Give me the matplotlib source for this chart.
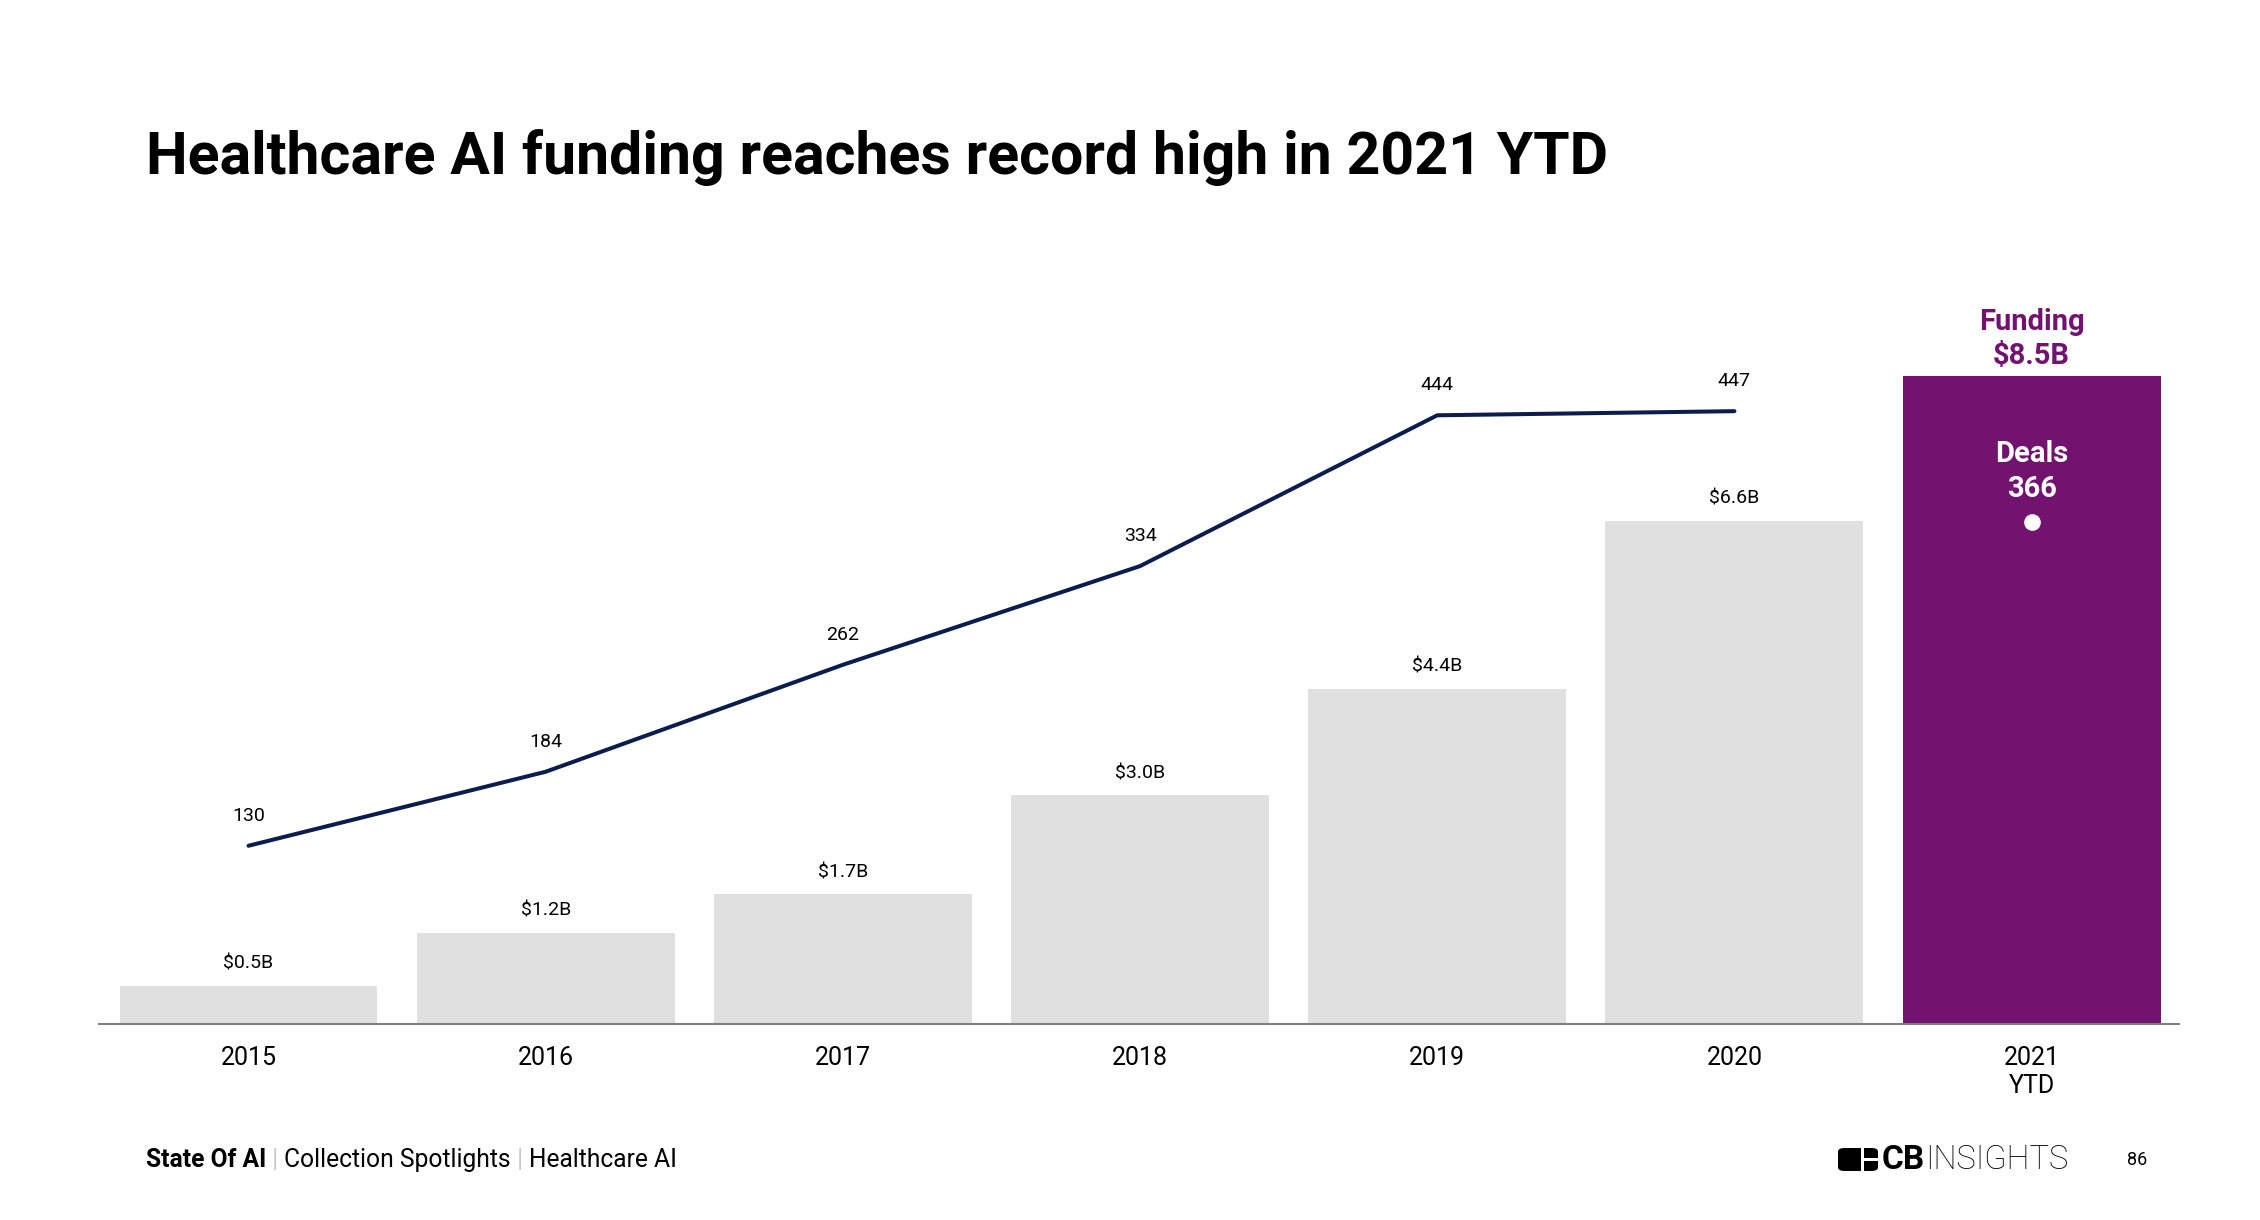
import matplotlib
matplotlib.use("Agg")
import matplotlib.pyplot as plt
from matplotlib.patches import FancyBboxPatch, Rectangle
import numpy as np

plt.rcParams['font.family'] = ['Roboto', 'DejaVu Sans']

# data
years = ['2015', '2016', '2017', '2018', '2019', '2020', '2021\nYTD']
funding = [0.5, 1.2, 1.7, 3.0, 4.4, 6.6, 8.5]          # $B
funding_labels = ['$0.5B', '$1.2B', '$1.7B', '$3.0B', '$4.4B', '$6.6B', '$8.5B']
deals = [130, 184, 262, 334, 444, 447, 366]

title = 'Healthcare AI funding reaches record high in 2021 YTD'
footer = ['State Of AI', 'Collection Spotlights', 'Healthcare AI']

GRAY_BAR = '#e0e0e0'
PURPLE = '#721370'
NAVY = '#0b1d4d'

W, H = 2260, 1220
fig = plt.figure(figsize=(W / 100, H / 100), dpi=100)
ax = fig.add_axes([99 / W, 1 - 1024 / H, 2080 / W, 748 / H])
ax2 = ax.twinx()

x = np.arange(len(years))
colors = [GRAY_BAR] * (len(years) - 1) + [PURPLE]
ax.bar(x, funding, width=0.868, color=colors, zorder=1)
ax.set_xlim(-0.503, 6.496)
ax.set_ylim(0, 9.81)
ax2.set_ylim(0, 545.6)

# funding labels (last one is special)
for xi, v, lab in zip(x[:-1], funding[:-1], funding_labels[:-1]):
    ax.annotate(lab, (xi, v), xytext=(0, 15.8), textcoords='offset points',
                ha='center', va='center', fontsize=14, color='black')
ax.annotate('Funding\n' + funding_labels[-1], (x[-1], funding[-1]),
            xytext=(0, 4), textcoords='offset points', ha='center',
            va='bottom', fontsize=21, fontweight='bold', color=PURPLE,
            linespacing=1.3)

# deals line (2015-2020), 2021 as a white dot inside the bar
ax2.plot(x[:-1], deals[:-1], color=NAVY, lw=2.9, solid_capstyle='round',
         solid_joinstyle='round', zorder=3)
for xi, d in zip(x[:-1], deals[:-1]):
    ax2.annotate(str(d), (xi, d), xytext=(0, 21.6), textcoords='offset points',
                 ha='center', va='center', fontsize=14, color='black')
ax2.plot([x[-1]], [deals[-1]], 'o', color='white', ms=11, zorder=4)
ax2.annotate('Deals\n' + str(deals[-1]), (x[-1], deals[-1]), xytext=(0, 14),
             textcoords='offset points', ha='center', va='bottom', fontsize=21,
             fontweight='bold', color='white', linespacing=1.3)

for a in (ax, ax2):
    for s in ('top', 'right', 'left'):
        a.spines[s].set_visible(False)
    a.set_yticks([])
ax2.spines['bottom'].set_visible(False)
ax.spines['bottom'].set_color('#808080')
ax.spines['bottom'].set_linewidth(1.5)
ax.set_xticks(x)
ax.set_xticklabels(years, fontsize=18, linespacing=1.18)
ax.tick_params(axis='x', length=0, pad=16)

# title
fig.text(146 / W, 1 - 158 / H, title, fontsize=42.5, fontweight='bold',
         ha='left', va='center')

# footer
fy = 1 - 1160 / H
t = fig.text(146 / W, fy, footer[0], fontsize=17.7, fontweight='bold',
             ha='left', va='center')
for part in footer[1:]:
    sep = ax.annotate(' | ', xy=(1, 0.5), xycoords=t, va='center', ha='left',
                      fontsize=17.7, color='#c8c8c8', annotation_clip=False)
    t = ax.annotate(part, xy=(1, 0.5), xycoords=sep, va='center', ha='left',
                    fontsize=17.7, color='black', annotation_clip=False)

# CB Insights logo
ix0, iy0, iw, ih = 1838, 1148, 40, 23
fig.patches.append(FancyBboxPatch((ix0 / W, 1 - (iy0 + ih) / H), iw / W, ih / H,
                                  boxstyle='round,pad=0,rounding_size=0.003',
                                  transform=fig.transFigure, facecolor='black',
                                  edgecolor='none'))
fig.patches.append(Rectangle(((ix0 + 23) / W, 1 - (iy0 + ih) / H), 3 / W, ih / H,
                             transform=fig.transFigure, facecolor='white'))
fig.patches.append(Rectangle(((ix0 + 23) / W, 1 - (iy0 + 13) / H), 17 / W, 3 / H,
                             transform=fig.transFigure, facecolor='white'))
cb = fig.text(1882 / W, fy, 'CB', fontsize=24, fontweight='bold', ha='left',
              va='center')
ax.annotate('INSIGHTS', xy=(1, 0.5), xycoords=cb, va='center', ha='left',
            fontsize=23.5, fontweight='light', annotation_clip=False)
fig.text(2127 / W, fy, '86', fontsize=13, ha='left', va='center')

fig.savefig('out.png', dpi=100, facecolor='white')
